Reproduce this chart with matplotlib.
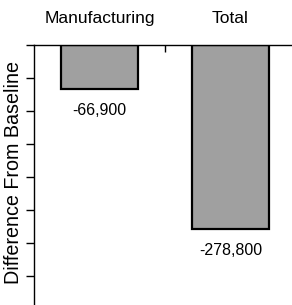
import matplotlib
matplotlib.use("Agg")
import matplotlib.pyplot as plt

plt.rcParams["font.family"] = ["Liberation Sans", "DejaVu Sans"]

# data
categories = ["Manufacturing", "Total"]
values = [-66900, -278800]
value_labels = ["-66,900", "-278,800"]
ytick_values = [0, -50000, -100000, -150000, -200000, -250000, -300000, -350000]

fig = plt.figure(figsize=(2.92, 3.05), dpi=100)
ax = fig.add_axes([34 / 292, 0, 262 / 292, 260 / 305])

x = list(range(len(categories)))
ax.bar(x, values, width=0.59, color="#a0a0a0", edgecolor="black", linewidth=1.6, zorder=2)

for xi, v, lab in zip(x, values, value_labels):
    ax.annotate(lab, (xi, v), xytext=(0, -10), textcoords="offset points",
                ha="center", va="top", fontsize=11.5)

ax.set_xlim(-0.5, 1.5)
ax.set_ylim(-394000, 0)

# category names above the zero line
ax.xaxis.tick_top()
ax.set_xticks([0.5])
ax.set_xticklabels([])
ax.tick_params(axis="x", direction="in", length=5, width=1)
for xi, name in zip(x, categories):
    ax.text(xi, 1.0 + 19 / 260, name, transform=ax.get_xaxis_transform(),
            ha="center", va="bottom", fontsize=12.5, clip_on=False)

ax.set_yticks(ytick_values)
ax.set_yticklabels([])
ax.tick_params(axis="y", direction="out", length=6, width=1)

ax.spines["right"].set_visible(False)
ax.spines["bottom"].set_visible(False)
ax.spines["top"].set_linewidth(1)
ax.spines["left"].set_linewidth(1)

fig.text(14 / 292, 1 - 172 / 305, "Difference From Baseline", rotation=90,
         ha="center", va="center", fontsize=14.2)

fig.savefig("out.png", dpi=100)
